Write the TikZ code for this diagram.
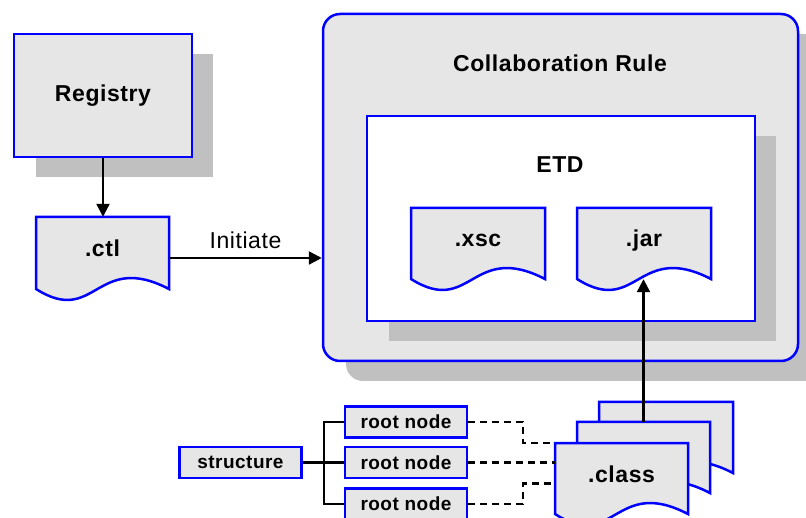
\documentclass[tikz,border=0pt]{standalone}
\usepackage{fontspec}
\setmainfont{Liberation Sans}[LetterSpace=2.5]
\usetikzlibrary{arrows.meta}

\definecolor{boxfill}{RGB}{230,230,230}
\definecolor{boxshadow}{RGB}{192,192,192}
\definecolor{boxline}{RGB}{0,0,255}

% document shape: name, left, top, right, bottom of the sides, text
\newcommand{\docnode}[6]{%
  \path[docline] (#2,#3) -- (#4,#3) -- (#4,#5)
    .. controls ({#2+0.45*(#4-#2)},{#5-38}) and ({#2+0.45*(#4-#2)},{#5+38}) .. (#2,#5) -- cycle;
  \node[doctext, minimum width={#4-#2}, minimum height={#5-#3}] (#1) at ({(#2+#4)/2},{(#3+#5)/2}) {#6};%
}

\begin{document}
\begin{tikzpicture}[x=1pt, y=-1pt,
  every node/.style={font=\bfseries\fontsize{23}{27}\selectfont},
  docline/.style={draw=boxline, fill=boxfill, line width=2.5pt},
  doctext/.style={inner sep=0pt, text height=12pt, text depth=5pt},
  smallbox/.style={draw=boxline, fill=boxfill, line width=2.5pt, minimum width=122, minimum height=31, inner sep=0pt, font=\bfseries\fontsize{19}{22}\selectfont},
  arr/.style={line width=2.3pt, -{Triangle[length=13pt,width=13pt]}},
  link/.style={line width=2.3pt},
  dashlink/.style={line width=2.3pt, dash pattern=on 7pt off 5pt}]
  \useasboundingbox (0,0) rectangle (806,518);

  % collaboration rule with the ETD
  \fill[boxshadow, rounded corners=17] (346,34) rectangle (821,381);
  \node[draw=boxline, fill=boxfill, line width=2.5pt, rounded corners=17, minimum width=475, minimum height=347] (collab) at (560.5,187.5) {};
  \node (collabtitle) at (560,63) {Collaboration Rule};
  \fill[boxshadow] (389,136) rectangle (776,341);
  \node[draw=boxline, fill=white, line width=2.5pt, minimum width=388, minimum height=205] (etd) at (561,218.5) {};
  \node (etdtitle) at (560,165) {ETD};
  \docnode{xsc}{411}{208}{545}{279}{.xsc}
  \docnode{jar}{577}{208}{711}{279}{.jar}

  % registry and control file
  \fill[boxshadow] (36,54) rectangle (213,177);
  \node[draw=boxline, fill=boxfill, line width=2.5pt, minimum width=178, minimum height=123] (registry) at (103,95.5) {Registry};
  \docnode{ctl}{36}{217}{169}{289}{.ctl}

  % class files
  \docnode{classc}{599}{402}{733}{473}{}
  \docnode{classb}{577}{422}{710}{493}{}
  \docnode{classa}{555}{443}{688}{514}{.class}

  % structure tree
  \node[smallbox] (structure) at (240.5,462.5) {structure};
  \node[smallbox] (rootA) at (406,422) {root node};
  \node[smallbox] (rootB) at (406,462.5) {root node};
  \node[smallbox] (rootC) at (406,504) {root node};

  \draw[arr] (registry.south) -- (registry.south |- ctl.north);
  \draw[arr] ([yshift=-5pt]ctl.east) coordinate (initstart) -- (initstart -| collab.west)
    node[midway, above=5pt, font=\fontsize{23}{27}\selectfont] (initiate) {Initiate};
  \draw[arr] (classb.north) -- (classb.north |- jar.south);

  \draw[link] (structure.east) -- (rootB.west);
  \draw[link] (structure.east) -- ++(21,0) coordinate (bus) |- (rootA.west);
  \draw[link] (bus) |- (rootC.west);

  \draw[dashlink] (rootA.east) -- ++(55,0) |- (classa.north west);
  \draw[dashlink] (rootB.east) -- (rootB.east -| classa.west);
  \draw[dashlink] (rootC.east) -- ++(55,0) |- ([yshift=-5pt]classa.west);
\end{tikzpicture}
\end{document}
